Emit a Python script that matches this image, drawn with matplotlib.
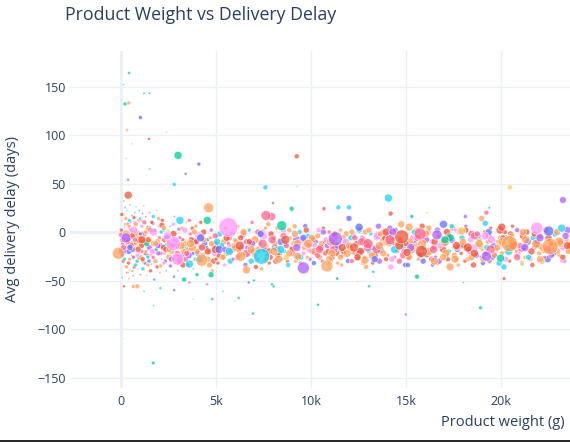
import matplotlib
matplotlib.use("Agg")
import matplotlib.pyplot as plt
from matplotlib.lines import Line2D
import numpy as np

TITLE = "Product Weight vs Delivery Delay"
X_LABEL = "Product weight (g)"
Y_LABEL = "Avg delivery delay (days)"
x_tick_values = [0, 5000, 10000, 15000, 20000]
x_tick_labels = ["0", "5k", "10k", "15k", "20k"]
y_tick_values = [-150, -100, -50, 0, 50, 100, 150]
y_tick_labels = ["\u2212150", "\u2212100", "\u221250", "0", "50", "100", "150"]

# product weight (g) per seller/product group
weight_g = [
    50, 120, 200, 260, 310, 380, 450, 520, 600, 680,
    90, 160, 230, 340, 410, 480, 560, 640, 720, 800,
    30, 140, 250, 370, 490, 610, 730, 850, 970, 1090,
    880, 940, 1010, 1150, 1220, 1300, 1380, 1450, 1530, 1600,
    1680, 1750, 1830, 1900, 1980, 2060, 2140, 2220, 2300, 2380,
    60, 210, 330, 460, 580, 700, 830, 960, 1100, 1240,
    1360, 1490, 1620, 1760, 1890, 2020, 2150, 2280, 2420, 2480,
    20, 100, 180, 280, 390, 500, 620, 750, 870, 990,
    1050, 1170, 1260, 1400, 1560, 1710, 1850, 1960, 2090, 2230,
    150, 300, 430, 550, 670, 790, 910, 1030, 1130, 1280,
    1330, 1420, 1510, 1640, 1790, 1920, 2050, 2180, 2330, 2450,
    70, 240, 420, 590, 760, 920, 1080, 1200, 1350, 1470,
    2550, 2650, 2750, 2850, 2950, 3050, 3150, 3250, 3350, 3450,
    3550, 3650, 3750, 3850, 3950, 4050, 4150, 4250, 4350, 4450,
    4550, 4650, 4750, 4850, 4950, 5050, 5150, 5250, 5350, 5450,
    5550, 5650, 5750, 5850, 5950, 2600, 2800, 3000, 3200, 3400,
    3600, 3800, 4000, 4200, 4400, 4600, 4800, 5000, 5200, 5400,
    2700, 2900, 3100, 3300, 3500, 3700, 3900, 4100, 4300, 4500,
    4700, 4900, 5100, 5300, 5500, 5700, 5900, 2520, 3750, 4880,
    2580, 2980, 3380, 3780, 4180, 4580, 4980, 5380, 5780, 5980,
    6050, 6250, 6450, 6650, 6850, 7050, 7250, 7450, 7650, 7850,
    8050, 8250, 8450, 8650, 8850, 9050, 9250, 9450, 9650, 9850,
    10050, 10250, 10450, 10650, 10850, 11050, 11250, 11450, 11650, 11850,
    6150, 6550, 6950, 7350, 7750, 8150, 8550, 8950, 9350, 9750,
    10150, 10550, 10950, 11350, 11750, 6350, 6750, 7150, 7550, 7950,
    8350, 8750, 9150, 9550, 9950, 10350, 10750, 11150, 11550, 11950,
    6100, 6600, 7100, 7600, 8100, 8600, 9100, 9600, 10100, 10600,
    11100, 11600, 6400, 6900, 7400, 7900, 8400, 8900, 9400, 9900,
    10400, 10900, 11400, 11900, 6200, 6700, 7200, 7700, 8200, 8700,
    9200, 9700, 10200, 10700, 11200, 11700, 6800, 7800, 8800, 9800,
    12050, 12250, 12450, 12650, 12850, 13050, 13250, 13450, 13650, 13850,
    14050, 14250, 14450, 14650, 14850, 15050, 15250, 15450, 15650, 15850,
    16050, 16250, 16450, 16650, 16850, 17050, 17250, 17450, 17650, 17850,
    12150, 12550, 12950, 13350, 13750, 14150, 14550, 14950, 15350, 15750,
    16150, 16550, 16950, 17350, 17750, 12350, 12750, 13150, 13550, 13950,
    14350, 14750, 15150, 15550, 15950, 16350, 16750, 17150, 17550, 17950,
    12100, 12600, 13100, 13600, 14100, 14600, 15100, 15600, 16100, 16600,
    17100, 17600, 12400, 12900, 13400, 13900, 14400, 14900, 15400, 15900,
    16400, 16900, 17400, 17900, 12200, 12700, 13200, 13700, 14200, 14700,
    15200, 15700, 16200, 16700, 17200, 17700, 12800, 13800, 14800, 15800,
    18050, 18250, 18450, 18650, 18850, 19050, 19250, 19450, 19650, 19850,
    20050, 20250, 20450, 20650, 20850, 21050, 21250, 21450, 21650, 21850,
    22050, 22250, 22450, 22650, 22850, 23050, 23250, 23450, 18150, 18550,
    18950, 19350, 19750, 20150, 20550, 20950, 21350, 21750, 22150, 22550,
    22950, 23350, 18350, 18750, 19150, 19550, 19950, 20350, 20750, 21150,
    21550, 21950, 22350, 22750, 23150, 23550, 18100, 18700, 19300, 19900,
    20500, 21100, 21700, 22300, 22900, 23500, 18400, 19000, 19600, 20200,
    20800, 21400, 22000, 22600, 23200, 18800, 19400, 20000, 20600, 21200,
    40, 170, 290, 440, 530, 650, 780, 900, 1020, 1160,
    1230, 1320, 1440, 1580, 1700, 1810, 1940, 2100, 2260, 2400,
    80, 220, 350, 470, 600, 740, 860, 1000, 1140, 1290,
    1410, 1550, 1690, 1820, 1970, 2110, 2240, 2360, 2470, 130,
    2530, 2760, 2960, 3160, 3360, 3560, 3760, 3960, 4160, 4360,
    4560, 4760, 4960, 5160, 5360, 5560, 5760, 5960, 2660, 3060,
    3460, 3860, 4260, 4660, 5060, 5460, 5860, 2860, 3260, 3660,
    6000, 6300, 6600, 6900, 7200, 7500, 7800, 8100, 8400, 8700,
    9000, 9300, 9600, 9900, 10200, 10500, 10800, 11100, 11400, 11700,
    6150, 6450, 6750, 7050, 7350, 7650, 7950, 8250, 8550, 8850,
    9150, 9450, 9750, 10050, 10350, 10650, 10950, 11250, 11550, 11850,
    6250, 6850, 7450, 8050, 8650, 9250, 9850, 10450, 11050, 11650,
    12000, 12300, 12600, 12900, 13200, 13500, 13800, 14100, 14400, 14700,
    15000, 15300, 15600, 15900, 16200, 16500, 16800, 17100, 17400, 17700,
    12150, 12450, 12750, 13050, 13350, 13650, 13950, 14250, 14550, 14850,
    15150, 15450, 15750, 16050, 16350, 16650, 16950, 17250, 17550, 17850,
    12250, 12850, 13450, 14050, 14650, 15250, 15850, 16450, 17050, 17650,
    18000, 18300, 18600, 18900, 19200, 19500, 19800, 20100, 20400, 20700,
    21000, 21300, 21600, 21900, 22200, 22500, 22800, 23100, 23400, 23600,
    18150, 18450, 18750, 19050, 19350, 19650, 19950, 20250, 20550, 20850,
    21150, 21450, 21750, 22050, 22350, 22650, 22950, 23250, 23550, 18600,
    18250, 18850, 19450, 20050, 20650, 21250, 21850, 22450, 23050, 23500,
    420, 120, 1210, 1510, 400, 210, 1020, 320, 2400, 1470,
    580, 3000, 4100, 3400, 9250, 260, 1510, 370, 2800, 7600,
    9260, 4740, 4000, 3320, 1750, 160, 650, 860, 1210, 1610,
    2070, 2800, 3600, 4540, 5210, 5370, 4800, 3800, 1720, 6190,
    5980, 6950, 7000, 7950, 8030, 10370, 11380, 120, 1700, 700,
    6720, 2790, 14990, 18930, 14070, 20470, 23260, 14190, 11440, 12000,
    12000, 15300, 16090, 18120, 19230, 19380, 18980, 19170, 11380, 13050,
    15580, 13280, 20160, 18910, 18020, 12460, 21120, 8980, 10680, 8000,
    5650, 2750, 2980, 7400, -140, 4610, 8460, 4250, 6600, 6300,
    3600, 4540, 1100, 260, 1700, 380, 7930, 9600, 10840, 11280,
    14770, 15810, 15740, 20440, 22580, 21880, 19980, 19230, 18600, 17320,
    17930, 16630, 22510, 20040, 16970, 15160, 15050, 22050, 23190, 19160,
    17320, 16490, 17580, 17050, 14300, 12980, 12840, 13600, 14160, 12670,
    9300, 8300, 12530, 13000, 2440, 3100, 4190, 5700, 7630, 11900,
]

# average delivery delay (days)
delay_days = [
    12, -30, 5, -18, 22, -8, -40, 0, -25, 15,
    -12, 18, -35, 8, -20, 28, -5, -45, 10, -15,
    -3, -22, 14, -42, 3, -12, 20, -30, -8, 6,
    -28, 12, -18, -38, -2, 16, -24, 4, -10, -33,
    9, -20, -4, -36, 14, -14, -28, 2, -8, -40,
    -47, 25, -15, -28, 17, -36, -2, 22, -20, -10,
    -45, -16, 10, -27, 22, -6, 7, -22, -14, 1,
    2, -8, -28, -2, -32, 10, -18, -12, -38, -26,
    13, -5, -32, 6, -40, -12, -18, 6, -35, -16,
    32, -42, 6, -24, 2, 26, -6, -44, 19, -22,
    -1, -26, 20, -20, 2, -10, -42, 12, -30, -24,
    -20, -10, -48, -4, -34, -22, -14, 27, -12, -30,
    -5, -20, 8, -32, -12, 3, -25, -8, -16, 10,
    -18, -2, -30, -10, 6, -22, -14, -36, 0, -26,
    -8, -20, 2, -30, -14, -4, -24, 8, -16, -34,
    -22, -12, -30, 0, -18, -35, 16, -40, 4, -28,
    12, -38, -20, 10, -12, 14, -40, -28, -2, -10,
    -14, -26, -6, -20, -34, -8, -28, -4, -24, -16,
    -6, -22, -32, -14, 4, -6, -28, -26, 4, 10,
    6, -16, -12, -22, -30, -28, -18, -26, -16, -8,
    -10, -24, -2, -16, -30, -8, -20, 0, -14, -26,
    -6, -18, -28, -12, 2, -22, -8, -32, -16, -4,
    -20, -10, -26, 4, -14, -30, -6, -18, -24, -2,
    6, -34, -20, -12, 8, -30, -4, -16, -26, -12,
    -32, -12, 0, -22, -10, -16, 2, -28, -18, -10,
    -22, -30, 6, -8, -28, -4, -22, -14, 2, -30,
    -28, -10, -36, 4, -16, -20, -12, -22, -8, -30,
    -26, -34, -4, 10, -38, -2, -10, -6, 0, -18,
    2, -20, -32, -14, -18, -24, 0, -24, 4, -26,
    -30, 6, -14, -10, -18, -6, -12, -32, -34, -26,
    -16, -4, -26, -10, 0, -20, -32, -6, -18, -12,
    -24, -8, 2, -30, -14, -2, -20, -10, -28, 6,
    -8, -22, -16, -32, -4, -12, -20, 4, -28, -14,
    -30, 2, -14, -24, -8, 4, -20, -34, -6, -18,
    0, -26, -18, -8, -34, -22, -32, -2, 6, -28,
    -12, 8, -26, -14, -22, -10, -30, 0, -16, -6,
    -6, -20, -12, -30, -2, -16, -34, 2, -24, -14,
    -24, 2, -12, -36, -16, -6, -26, -20, -14, -30,
    -34, -10, 6, -22, -20, -6, -24, -12, -36, -8,
    -10, -22, 4, -4, -28, -18, -26, 0, -12, -2,
    -14, -28, -2, -20, -8, -32, -16, 4, -24, -10,
    -22, -6, -30, -14, 2, -18, -26, -8, -34, -12,
    -4, -20, -28, -12, -2, -24, -16, -8, 6, -34,
    -26, -4, -18, -36, -10, -22, 0, -16, -30, -8,
    -20, -30, -20, -12, 0, -26, -6, -16, -24, -4,
    -28, -14, 4, -22, -10, -18, -30, -24, -10, -32,
    -2, -32, -6, -26, -14, 2, -8, -18, -14, 0,
    -20, -10, -22, -18, -30, -4, -30, -12, 6, -16,
    18, -6, -36, 12, -14, -26, 8, -18, -2, -30,
    10, -20, -8, -24, 16, -30, -14, -22, 4, -6,
    -24, 8, -10, -16, -40, -8, -24, 14, -28, 0,
    -34, 2, -26, -12, -22, 0, -32, -18, -10, -16,
    -18, -2, -22, -14, 2, -24, -16, -10, -28, -8,
    -20, -12, -4, -18, -26, -6, -20, -14, -28, -30,
    -22, 0, -16, -34, -10, -18, -2, -8, -34, -12,
    -16, -6, -22, -12, -18, -4, -20, -12, -18, -14,
    -18, -12, -6, -14, -20, -16, -8, -22, -14, -20,
    -26, 0, -10, -24, -2, -28, -8, -24, 2, -22,
    -2, -26, 2, -6, -24, 0, -28, -2, -26, -10,
    -14, -18, -12, -20, -8, -16, -12, -18, -10, -16,
    -14, -6, -20, -10, -16, -4, -22, -12, -18, -8,
    -12, -18, -6, -16, -20, -10, -14, -22, -8, -16,
    0, -26, -8, 2, -28, -2, 0, -28, -12, -24,
    -26, 0, -24, -2, -28, 2, -26, -4, -24, 0,
    -16, -12, -18, -10, -14, -16, -12, -18, -10, -14,
    -10, -18, -4, -14, -22, -8, -16, -6, -20, -12,
    -14, -8, -20, -10, -16, -6, -18, -12, -4, -14,
    2, -26, -2, -28, 0, -24, 2, -28, -4, -26,
    0, -26, -2, -28, 2, -24, 0, -26, -20, -16,
    -16, -12, -18, -10, -14, -16, -12, -18, -10, -14,
    164, 152, 143, 143, 133, 132, 118, 105, 103, 96,
    91, 79, 70, 60, 78, 76, 65, 54, 49, 46,
    47, -44, -44, -49, -49, -56, -56, -56, -61, -62,
    -58, -60, -52, -54, -51, -61, -69, -69, -76, -68,
    -71, -84, -50, -54, -56, -75, -48, -110, -135, -140,
    -52, -46, -85, -78, 35, 46, 33, 19, 25.5, 25.5,
    14, 16, 20, 16, 20, 25, 14, 9, -48, -56,
    -46, -41, -48, -78, -52, -51, -33, 24, 24, 30,
    5, -12, -28, -25, -22, 25, 6.5, -29, -39, -25,
    -33, 12, -8, -6, 0, 38, 16, -37, -35, -7,
    -5, -20, -2, -12, -15, 4, -27, -25, -22, -6,
    1, -3, 1, 5, 8, 5, -21, -6, 4, -4,
    -36, -30, -28, -8, 0, -16, -29, -14, -8, -10,
    -25, -28, 5, -12, -4, 12, -6, -20, 17, -22,
]

# bubble size (marker radius in pixels)
bubble_px = [
    1, 2, 1, 2, 1, 3, 1, 2, 1, 2,
    2, 1, 1, 2, 3, 1, 2, 1, 2, 3,
    3, 1, 2, 1, 2, 3, 1, 2, 4, 2,
    1, 2, 1, 2, 3, 1, 2, 3, 2, 1,
    2, 3, 1, 2, 2, 3, 1, 2, 3, 1,
    1, 1, 3, 2, 1, 2, 4, 1, 2, 4,
    1, 3, 2, 1, 1, 2, 3, 2, 3, 2,
    2, 3, 2, 4, 2, 1, 3, 2, 1, 3,
    2, 1, 2, 1, 2, 3, 2, 1, 2, 3,
    1, 1, 2, 1, 4, 1, 2, 1, 1, 2,
    2, 2, 1, 3, 2, 3, 1, 2, 2, 1,
    4, 2, 1, 3, 2, 2, 3, 1, 3, 2,
    2, 3, 2, 1, 3, 2, 4, 2, 3, 1,
    3, 2, 1, 4, 2, 3, 2, 1, 3, 2,
    2, 3, 2, 3, 4, 2, 3, 1, 2, 2,
    3, 2, 3, 2, 3, 2, 1, 1, 2, 3,
    2, 1, 3, 2, 3, 1, 2, 2, 3, 3,
    3, 4, 2, 3, 2, 3, 2, 4, 3, 2,
    2, 3, 2, 3, 2, 3, 2, 3, 2, 1,
    1, 2, 3, 2, 2, 3, 4, 3, 4, 2,
    3, 2, 3, 2.5, 3, 4, 2, 3, 2.5, 3,
    2.5, 3, 2, 3, 2.5, 3, 4, 2, 3, 2.5,
    3, 2.5, 3, 2, 3, 2.5, 3, 3.5, 2, 3,
    2, 2.5, 3, 2, 2.5, 3, 3.5, 2, 3, 4,
    2.5, 3, 2, 3, 2.5, 3, 2, 2.5, 3, 2,
    3, 2, 2.5, 3.5, 2, 3, 2.5, 3, 2, 2.5,
    2, 3, 2.5, 2, 3.5, 2, 3, 2.5, 3, 2,
    3, 2, 2.5, 2, 2, 3, 3.5, 2, 2.5, 3,
    2.5, 3, 2, 3.5, 3, 2, 3, 2.5, 2, 3,
    2, 2.5, 3, 2, 4, 3, 3, 2, 2.5, 2,
    3, 2.5, 3.5, 2, 3, 2.5, 2, 3, 3.5, 2.5,
    2, 3, 2.5, 3, 3.5, 2, 3, 2.5, 2, 3,
    3.5, 2, 3, 2.5, 2, 3, 2.5, 3, 2, 3.5,
    2.5, 3, 2, 3.5, 2.5, 3, 2, 2.5, 3, 2,
    3, 2, 3.5, 2.5, 2, 3, 2.5, 2, 3, 2.5,
    2, 3.5, 2.5, 3, 2, 2.5, 3, 3.5, 2, 3,
    3, 2.5, 2, 3, 3.5, 2, 2.5, 3, 2.5, 2,
    2.5, 2, 3, 2.5, 3, 3.5, 2, 3, 2.5, 3,
    2, 3, 2.5, 2, 3, 2.5, 3.5, 2, 3, 2.5,
    3.5, 2.5, 3, 2, 2.5, 3, 2, 3, 3.5, 2,
    3, 2.5, 3.5, 2, 3, 2.5, 3, 2, 3.5, 2.5,
    2.5, 3, 2, 3.5, 2.5, 3, 2, 3, 2.5, 3,
    3, 2, 3.5, 2.5, 3, 2, 3, 2.5, 2, 3,
    2, 3, 2.5, 3, 3.5, 2, 3, 2.5, 3, 2,
    3.5, 2, 3, 2.5, 2, 3, 2.5, 3, 2, 3.5,
    2.5, 3, 2, 3, 3.5, 2.5, 2, 3, 2.5, 3,
    3, 2.5, 3, 2, 2.5, 3.5, 3, 2, 3, 2.5,
    2, 3.5, 2.5, 3, 2, 3, 2.5, 3, 2, 3,
    2, 2.5, 2, 2, 3, 2, 2.5, 3, 2, 2,
    2.5, 2, 3, 2, 2, 2.5, 3, 2, 2.5, 3,
    2, 1.5, 2.5, 3, 1.5, 2.5, 2, 1.5, 2.5, 2,
    2, 2.5, 2, 3, 2.5, 2, 2, 3, 2.5, 3,
    3, 3.5, 3, 4, 3, 3.5, 4, 3, 3.5, 3,
    3.5, 3, 3, 4, 3, 3.5, 3, 3, 3, 3,
    3, 3, 3.5, 3, 3.5, 3, 3, 3.5, 3, 4,
    3.5, 3, 4, 3.5, 3, 4, 3.5, 3, 4, 3,
    3, 4, 3.5, 3, 4, 3.5, 3, 4, 3.5, 3,
    3, 3.5, 3, 3, 3.5, 3, 4, 3, 3, 3.5,
    3.5, 3, 3, 3.5, 3, 3, 3.5, 3, 3, 3.5,
    4.5, 4, 4.5, 4, 4.5, 4, 4.5, 4, 4.5, 4,
    3.5, 3, 4, 3.5, 3, 4, 3.5, 3, 4, 3,
    3, 4, 3.5, 3, 4, 3.5, 3, 4, 3.5, 3,
    3, 3.5, 3, 3, 3.5, 3, 4, 3, 3, 3.5,
    3.5, 3, 3, 3.5, 3, 3, 3.5, 3, 3, 3.5,
    4.5, 4, 4.5, 4, 4.5, 4, 4.5, 4, 4.5, 4,
    3.5, 3, 4, 3.5, 3, 4, 3.5, 3, 4, 3,
    3, 4, 3.5, 3, 4, 3.5, 3, 4, 3.5, 3,
    3, 3.5, 3, 3, 3.5, 3, 4, 3, 3, 3.5,
    3.5, 3, 3, 3.5, 3, 3, 3.5, 3, 3, 3.5,
    4.5, 4, 4.5, 4, 4.5, 4, 4.5, 4, 4.5, 4,
    1.5, 1, 1.2, 1.2, 2, 2, 2, 1.5, 1, 1.5,
    0.8, 4, 2, 1.5, 2.5, 1, 1, 1.5, 2, 2.5,
    0.8, 3, 2, 2.5, 1.5, 1.5, 2, 2.5, 1, 0.8,
    1.5, 1.5, 1.5, 1.5, 0.8, 1, 1.5, 0.8, 1, 1.5,
    0.8, 1.5, 1.5, 1.5, 1.5, 1.5, 1.5, 0.6, 1.8, 0.6,
    1.5, 1.5, 1.5, 2, 4, 2.5, 3.5, 2.5, 2.5, 2.5,
    3, 2, 1.2, 2, 2.5, 1.2, 3, 3, 1.5, 1.5,
    2.5, 1.5, 1.8, 1.5, 1, 1, 2, 2.5, 2, 1.5,
    9.5, 7, 6, 8, 6, 5, 5, 6, 4, 5,
    4, 4, 4, 5, 4, 4, 4, 6, 6, 7,
    7, 6, 6, 8, 8, 6, 4, 5, 4, 4,
    4, 5, 5, 4, 4, 4, 4, 4, 4, 4,
    4, 4, 4, 4, 4, 4, 4, 4, 5, 4,
    4, 4, 4, 5, 4, 4, 4, 4, 5, 4,
]

# product category index (colour group)
category = [
    4, 1, 6, 3, 5, 0, 4, 8, 2, 1,
    1, 4, 3, 6, 0, 5, 4, 1, 8, 7,
    6, 0, 4, 1, 3, 4, 5, 2, 1, 8,
    3, 4, 1, 5, 6, 1, 0, 4, 9, 3,
    0, 8, 4, 1, 4, 3, 6, 5, 1, 2,
    5, 1, 8, 4, 3, 1, 4, 0, 6, 4,
    4, 3, 1, 0, 4, 6, 1, 8, 5, 7,
    1, 6, 5, 4, 1, 0, 3, 4, 8, 4,
    8, 4, 0, 3, 1, 4, 2, 6, 4, 1,
    2, 1, 4, 6, 8, 5, 4, 3, 0, 1,
    4, 5, 1, 8, 3, 4, 6, 1, 0, 4,
    3, 4, 6, 1, 5, 8, 1, 4, 2, 0,
    1, 4, 8, 0, 4, 3, 6, 1, 5, 4,
    4, 6, 1, 3, 4, 0, 8, 4, 1, 5,
    0, 4, 3, 1, 6, 4, 1, 7, 4, 8,
    4, 1, 5, 8, 4, 3, 1, 0, 4, 6,
    6, 3, 4, 1, 0, 8, 4, 1, 5, 4,
    1, 4, 6, 4, 3, 1, 5, 8, 4, 0,
    4, 8, 1, 5, 4, 6, 3, 4, 1, 9,
    3, 1, 4, 0, 6, 4, 1, 4, 8, 5,
    4, 1, 6, 3, 5, 4, 0, 8, 4, 1,
    1, 4, 8, 0, 4, 6, 3, 1, 4, 5,
    6, 0, 4, 1, 3, 4, 8, 5, 1, 4,
    4, 3, 1, 5, 4, 1, 6, 4, 0, 8,
    0, 4, 6, 1, 4, 3, 5, 4, 1, 7,
    5, 1, 4, 8, 3, 4, 1, 6, 4, 0,
    4, 6, 1, 4, 0, 5, 4, 8, 1, 3,
    1, 4, 3, 6, 4, 1, 0, 4, 5, 8,
    8, 1, 4, 5, 1, 4, 6, 3, 4, 9,
    4, 0, 8, 1, 6, 4, 3, 1, 5, 4,
    1, 6, 4, 3, 4, 5, 1, 8, 0, 4,
    4, 1, 0, 6, 5, 4, 8, 3, 4, 1,
    3, 4, 1, 4, 8, 0, 5, 4, 6, 1,
    6, 5, 4, 1, 4, 3, 1, 0, 8, 4,
    4, 0, 1, 8, 4, 6, 4, 5, 3, 1,
    1, 4, 6, 4, 0, 8, 3, 1, 4, 5,
    5, 1, 4, 3, 6, 4, 0, 4, 1, 8,
    4, 8, 1, 4, 5, 1, 6, 3, 4, 0,
    0, 4, 5, 1, 4, 3, 4, 6, 8, 1,
    4, 3, 4, 6, 1, 0, 1, 4, 5, 8,
    1, 4, 6, 8, 4, 0, 5, 1, 3, 4,
    4, 5, 1, 4, 3, 6, 4, 8, 1, 0,
    6, 4, 0, 1, 5, 4, 8, 4, 3, 1,
    3, 1, 4, 5, 4, 8, 1, 6, 4, 0,
    4, 6, 3, 4, 1, 0, 4, 5, 8, 1,
    8, 1, 4, 0, 6, 4, 1, 3, 4, 5,
    1, 4, 5, 6, 4, 3, 8, 4, 0, 1,
    4, 0, 4, 1, 8, 5, 6, 4, 1, 3,
    1, 8, 4, 5, 6, 3, 4, 1, 0, 4,
    6, 4, 1, 8, 5, 4, 3, 1, 4, 0,
    3, 4, 1, 0, 4, 6, 8, 5, 1, 4,
    4, 1, 6, 4, 3, 5, 8, 1, 4, 6,
    4, 1, 6, 4, 8, 3, 4, 1, 5, 4,
    1, 4, 6, 0, 4, 1, 8, 4, 3, 1,
    6, 4, 1, 4, 5, 3, 4, 8, 1, 4,
    4, 1, 6, 3, 4, 8, 1, 4, 5, 6,
    1, 4, 0, 6, 4, 1, 8, 4, 3, 1,
    6, 4, 1, 4, 0, 4, 6, 1, 8, 4,
    4, 5, 1, 4, 6, 3, 4, 1, 4, 8,
    1, 4, 6, 4, 1, 3, 4, 6, 4, 1,
    4, 6, 1, 4, 3, 8, 4, 1, 5, 4,
    1, 4, 6, 0, 4, 1, 8, 4, 3, 6,
    4, 1, 6, 4, 0, 4, 1, 8, 4, 6,
    4, 5, 1, 4, 6, 3, 4, 1, 4, 8,
    1, 4, 6, 4, 1, 3, 4, 6, 4, 1,
    4, 1, 6, 4, 3, 8, 4, 1, 5, 4,
    6, 4, 1, 0, 4, 1, 8, 4, 3, 6,
    1, 4, 6, 4, 0, 4, 1, 8, 4, 6,
    4, 5, 1, 4, 6, 3, 4, 1, 4, 8,
    1, 4, 6, 4, 1, 3, 4, 6, 4, 1,
    2, 5, 2, 2, 4, 2, 0, 4, 9, 1,
    2, 2, 0, 0, 1, 8, 2, 3, 5, 5,
    2, 2, 2, 2, 2, 1, 4, 4, 2, 7,
    5, 0, 6, 6, 2, 2, 2, 2, 2, 2,
    2, 2, 2, 2, 2, 2, 2, 5, 2, 7,
    0, 0, 6, 2, 5, 9, 3, 1, 5, 5,
    0, 2, 9, 3, 6, 2, 4, 5, 2, 2,
    2, 2, 1, 2, 2, 9, 7, 2, 1, 3,
    8, 8, 8, 5, 4, 4, 2, 4, 4, 4,
    5, 2, 1, 3, 8, 1, 6, 3, 4, 3,
    1, 1, 6, 4, 4, 8, 2, 3, 1, 2,
    9, 3, 0, 1, 0, 4, 1, 3, 5, 8,
    4, 4, 4, 2, 3, 6, 4, 4, 6, 6,
    4, 4, 0, 6, 8, 5, 0, 5, 6, 4,
]

palette = ["#636efa", "#EF553B", "#00cc96", "#ab63fa", "#FFA15A",
           "#19d3f3", "#FF6692", "#B6E880", "#FF97FF", "#FECB52"]

n = min(len(weight_g), len(delay_days), len(bubble_px), len(category))
xs = np.array(weight_g[:n], dtype=float)
ys = np.array(delay_days[:n], dtype=float)
rs = np.array(bubble_px[:n], dtype=float)
cs = [palette[c] for c in category[:n]]
areas = (2 * rs * 0.72) ** 2

plt.rcParams["font.family"] = ["Open Sans", "DejaVu Sans"]
W, H = 570, 442
fig = plt.figure(figsize=(W / 100, H / 100), dpi=100)
fig.patch.set_facecolor("white")
L, R, T, B = 70, 570, 51, 388
ax = fig.add_axes([L / W, 1 - B / H, (R - L) / W, (B - T) / H])
ax.set_facecolor("white")
ax.set_xlim(-2684, 23630)
ax.set_ylim(-160.8, 186.6)
for sp in ax.spines.values():
    sp.set_visible(False)
grid_c = "#EBF0F8"
ax.set_xticks(x_tick_values)
ax.set_xticklabels(x_tick_labels)
ax.set_yticks(y_tick_values)
ax.set_yticklabels(y_tick_labels)
ax.grid(True, color=grid_c, linewidth=1)
ax.set_axisbelow(True)
ax.axhline(0, color=grid_c, linewidth=2, zorder=0.5)
ax.axvline(0, color=grid_c, linewidth=2, zorder=0.5)
ax.tick_params(axis="both", length=0, labelsize=9, colors="#2a3f5f")
ax.tick_params(axis="x", pad=5)
ax.tick_params(axis="y", pad=3)

ax.scatter(xs, ys, s=areas, c=cs, alpha=0.75, edgecolors="white",
           linewidths=0.5, zorder=2)

fig.text(65 / W, 1 - 15 / H, TITLE, fontsize=12.75, color="#2a3f5f",
         ha="left", va="center")
fig.text(565 / W, 1 - 423 / H, X_LABEL, fontsize=10.5, color="#2a3f5f",
         ha="right", va="center")
fig.text(13 / W, 1 - 219.5 / H, Y_LABEL, fontsize=10.5, color="#2a3f5f",
         ha="center", va="center", rotation=90)
fig.add_artist(Line2D([0, 1], [0.8 / H, 0.8 / H], color="black", linewidth=1.2,
                      transform=fig.transFigure))

fig.savefig("out.png", dpi=100, facecolor="white")
